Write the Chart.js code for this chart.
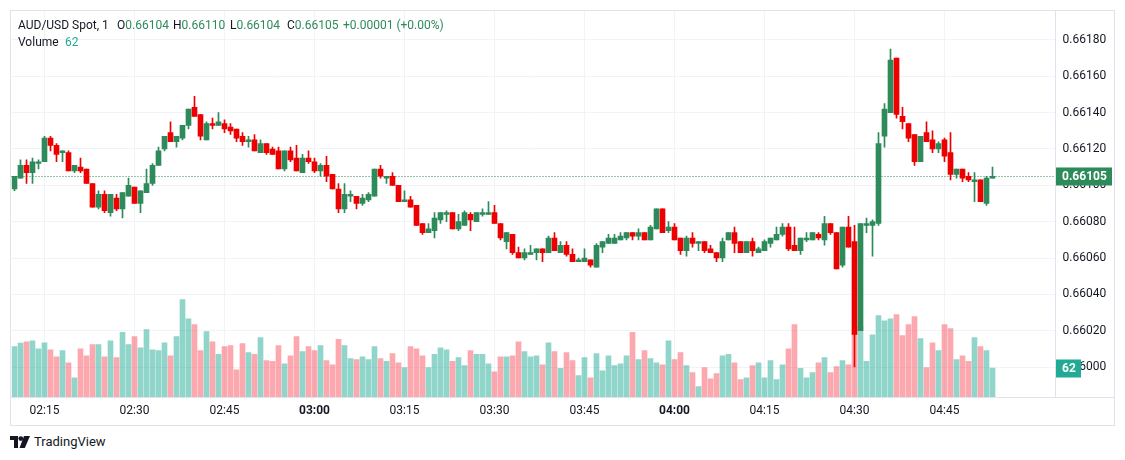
<!DOCTYPE html>
<html>
<head>
<meta charset="utf-8">
<script src="https://cdn.jsdelivr.net/npm/chart.js@4.4.1/dist/chart.umd.min.js"></script>
<style>
html,body{margin:0;padding:0;background:#fff;}
body{width:1125px;height:460px;position:relative;overflow:hidden;font-family:Roboto,"Liberation Sans",sans-serif;color:#131722;}
#wrap{position:absolute;left:10px;top:10px;width:1104px;height:415px;}
#frame{position:absolute;left:10px;top:10px;width:1105px;height:416px;border:1px solid #e0e3eb;box-sizing:border-box;pointer-events:none;}
.h{position:absolute;font-size:12px;line-height:14px;white-space:nowrap;}
.g{color:#2d8a5a;}
.t{color:#22ab94;}
#logo{position:absolute;left:10px;top:434px;display:flex;align-items:center;font-size:13px;color:#131722;}
#logo svg{margin-right:4px;}
</style>
</head>
<body>
<div id="wrap"><canvas id="c" width="1104" height="415"></canvas></div>
<div id="frame"></div>
<div class="h" style="left:18px;top:18px">AUD/USD Spot, 1</div>
<div class="h" style="left:117px;top:18px">O<span class="g">0.66104</span></div>
<div class="h" style="left:173px;top:18px">H<span class="g">0.66110</span></div>
<div class="h" style="left:230px;top:18px">L<span class="g">0.66104</span></div>
<div class="h" style="left:287px;top:18px">C<span class="g">0.66105</span></div>
<div class="h g" style="left:343px;top:18px">+0.00001 (+0.00%)</div>
<div class="h" style="left:18px;top:35px">Volume</div>
<div class="h t" style="left:65px;top:35px">62</div>
<div id="logo"><svg width="20" height="12" viewBox="0 0 20 12"><path d="M0 0h8v12h-4v-8h-4z" fill="#131722"/><circle cx="10.8" cy="2.6" r="2.4" fill="#131722"/><path d="M14 0h6l-5.2 12h-5.3z" fill="#131722"/></svg><span>TradingView</span></div>
<script>
// ---- data (AUD/USD 1-minute, from 02:10) ----
const opens = [0.66098,0.66104,0.66111,0.66107,0.66112,0.66113,0.66126,0.66122,0.66118,0.66118,0.66108,0.66110,0.66109,0.66101,0.66088,0.66095,0.66085,0.66093,0.66087,0.66094,0.66099,0.66090,0.66096,0.66101,0.66111,0.66120,0.66129,0.66124,0.66126,0.66133,0.66143,0.66139,0.66125,0.66134,0.66133,0.66134,0.66132,0.66131,0.66127,0.66124,0.66125,0.66118,0.66123,0.66120,0.66119,0.66109,0.66119,0.66115,0.66107,0.66115,0.66113,0.66108,0.66111,0.66106,0.66098,0.66087,0.66094,0.66094,0.66090,0.66092,0.66094,0.66109,0.66104,0.66105,0.66100,0.66091,0.66092,0.66089,0.66079,0.66074,0.66075,0.66081,0.66084,0.66085,0.66076,0.66078,0.66084,0.66080,0.66084,0.66084,0.66085,0.66079,0.66069,0.66073,0.66063,0.66060,0.66062,0.66063,0.66065,0.66063,0.66071,0.66063,0.66067,0.66062,0.66058,0.66058,0.66059,0.66055,0.66066,0.66068,0.66068,0.66070,0.66071,0.66074,0.66072,0.66074,0.66070,0.66076,0.66087,0.66075,0.66077,0.66071,0.66064,0.66071,0.66068,0.66069,0.66065,0.66063,0.66060,0.66070,0.66074,0.66069,0.66063,0.66069,0.66063,0.66064,0.66068,0.66070,0.66073,0.66077,0.66067,0.66064,0.66070,0.66070,0.66073,0.66070,0.66079,0.66074,0.66056,0.66077,0.66069,0.66020,0.66078,0.66078,0.66079,0.66127,0.66140,0.66170,0.66138,0.66134,0.66128,0.66113,0.66129,0.66125,0.66120,0.66125,0.66118,0.66106,0.66109,0.66105,0.66102,0.66103,0.66090,0.66104];
const highs = [0.66105,0.66114,0.66114,0.66115,0.66114,0.66127,0.66127,0.66123,0.66119,0.66119,0.66111,0.66115,0.66109,0.66101,0.66097,0.66097,0.66095,0.66095,0.66096,0.66104,0.66099,0.66097,0.66109,0.66112,0.66121,0.66127,0.66135,0.66127,0.66133,0.66142,0.66149,0.66139,0.66135,0.66137,0.66140,0.66136,0.66134,0.66131,0.66129,0.66127,0.66128,0.66125,0.66123,0.66121,0.66121,0.66119,0.66121,0.66122,0.66117,0.66119,0.66115,0.66112,0.66116,0.66106,0.66101,0.66101,0.66097,0.66094,0.66095,0.66096,0.66109,0.66111,0.66105,0.66107,0.66100,0.66097,0.66094,0.66089,0.66079,0.66079,0.66085,0.66085,0.66086,0.66085,0.66084,0.66086,0.66085,0.66085,0.66087,0.66091,0.66089,0.66079,0.66074,0.66073,0.66066,0.66065,0.66067,0.66065,0.66065,0.66072,0.66074,0.66069,0.66069,0.66065,0.66060,0.66065,0.66059,0.66068,0.66069,0.66073,0.66073,0.66074,0.66074,0.66074,0.66076,0.66074,0.66078,0.66087,0.66087,0.66080,0.66079,0.66071,0.66072,0.66074,0.66069,0.66069,0.66067,0.66063,0.66071,0.66074,0.66077,0.66069,0.66069,0.66071,0.66066,0.66070,0.66071,0.66077,0.66079,0.66079,0.66077,0.66071,0.66074,0.66074,0.66074,0.66083,0.66079,0.66074,0.66077,0.66083,0.66078,0.66079,0.66082,0.66081,0.66129,0.66145,0.66175,0.66170,0.66143,0.66134,0.66128,0.66127,0.66135,0.66130,0.66124,0.66126,0.66129,0.66109,0.66109,0.66107,0.66107,0.66103,0.66105,0.66110];
const lows = [0.66097,0.66104,0.66101,0.66101,0.66109,0.66113,0.66119,0.66113,0.66113,0.66108,0.66107,0.66107,0.66101,0.66088,0.66087,0.66085,0.66083,0.66086,0.66082,0.66094,0.66090,0.66085,0.66096,0.66100,0.66111,0.66119,0.66124,0.66121,0.66125,0.66131,0.66138,0.66125,0.66125,0.66131,0.66133,0.66129,0.66128,0.66124,0.66122,0.66121,0.66119,0.66118,0.66117,0.66117,0.66109,0.66108,0.66113,0.66108,0.66107,0.66112,0.66107,0.66105,0.66102,0.66098,0.66085,0.66085,0.66091,0.66087,0.66089,0.66091,0.66094,0.66104,0.66101,0.66100,0.66091,0.66091,0.66088,0.66078,0.66073,0.66074,0.66071,0.66079,0.66080,0.66076,0.66075,0.66078,0.66075,0.66080,0.66083,0.66084,0.66079,0.66070,0.66065,0.66062,0.66060,0.66059,0.66062,0.66059,0.66058,0.66063,0.66064,0.66063,0.66061,0.66058,0.66058,0.66058,0.66055,0.66055,0.66063,0.66068,0.66068,0.66070,0.66070,0.66070,0.66070,0.66070,0.66070,0.66076,0.66074,0.66074,0.66070,0.66062,0.66061,0.66066,0.66064,0.66063,0.66063,0.66058,0.66058,0.66070,0.66063,0.66063,0.66063,0.66061,0.66063,0.66064,0.66066,0.66070,0.66072,0.66064,0.66064,0.66062,0.66069,0.66070,0.66070,0.66067,0.66073,0.66054,0.66055,0.66066,0.66000,0.66020,0.66074,0.66061,0.66078,0.66121,0.66140,0.66137,0.66131,0.66124,0.66111,0.66113,0.66124,0.66118,0.66118,0.66113,0.66103,0.66104,0.66102,0.66102,0.66091,0.66091,0.66089,0.66104];
const closes = [0.66105,0.66111,0.66107,0.66113,0.66113,0.66126,0.66122,0.66117,0.66119,0.66108,0.66111,0.66108,0.66101,0.66088,0.66095,0.66086,0.66095,0.66087,0.66096,0.66100,0.66090,0.66097,0.66101,0.66111,0.66119,0.66127,0.66124,0.66127,0.66133,0.66142,0.66138,0.66127,0.66134,0.66133,0.66135,0.66131,0.66130,0.66126,0.66124,0.66125,0.66119,0.66123,0.66118,0.66117,0.66109,0.66119,0.66114,0.66108,0.66115,0.66113,0.66108,0.66111,0.66105,0.66098,0.66087,0.66095,0.66095,0.66090,0.66093,0.66095,0.66109,0.66105,0.66105,0.66100,0.66091,0.66092,0.66088,0.66078,0.66074,0.66076,0.66082,0.66085,0.66085,0.66076,0.66080,0.66085,0.66081,0.66085,0.66085,0.66085,0.66079,0.66071,0.66074,0.66063,0.66060,0.66063,0.66063,0.66065,0.66063,0.66071,0.66064,0.66067,0.66062,0.66058,0.66059,0.66060,0.66056,0.66067,0.66069,0.66071,0.66071,0.66072,0.66074,0.66072,0.66074,0.66070,0.66077,0.66087,0.66074,0.66077,0.66070,0.66064,0.66071,0.66068,0.66069,0.66064,0.66063,0.66060,0.66069,0.66074,0.66068,0.66063,0.66069,0.66064,0.66065,0.66069,0.66071,0.66073,0.66077,0.66065,0.66064,0.66071,0.66071,0.66074,0.66071,0.66079,0.66074,0.66054,0.66077,0.66066,0.66018,0.66079,0.66079,0.66080,0.66123,0.66142,0.66169,0.66139,0.66135,0.66126,0.66113,0.66127,0.66124,0.66120,0.66123,0.66116,0.66106,0.66109,0.66104,0.66103,0.66103,0.66091,0.66104,0.66105];
const volumes = [108,115,118,120,103,116,101,86,99,73,41,103,88,112,112,86,120,84,138,112,129,105,144,101,99,116,88,129,208,167,155,99,140,118,91,108,110,58,114,95,91,127,78,76,110,71,88,129,97,108,99,110,78,69,123,110,82,80,86,80,108,82,76,93,73,63,108,103,88,63,91,105,101,76,84,67,99,91,91,71,54,86,86,88,118,97,86,88,69,116,97,61,95,78,46,84,41,93,56,88,67,71,88,138,80,99,82,73,69,120,80,95,67,52,22,63,39,50,88,91,73,37,41,67,73,41,78,37,69,103,155,61,41,52,73,84,52,65,78,69,137,150,76,133,174,163,167,176,131,155,172,125,63,116,99,155,146,80,88,76,127,108,99,62];
// time categories: one per minute from 02:10, with empty minutes after the last bar (right margin)
const firstMinute = 2 * 60 + 10, lastMinute = 5 * 60 + 3;
const timeLabels = [];
for (let m = firstMinute; m <= lastMinute; m++) {
  timeLabels.push(String(Math.floor(m / 60)).padStart(2, '0') + ':' + String(m % 60).padStart(2, '0'));
}
const timeTicks = ['02:15','02:30','02:45','03:00','03:15','03:30','03:45','04:00','04:15','04:30','04:45'];
const priceTicks = [0.66000,0.66020,0.66040,0.66060,0.66080,0.66100,0.66120,0.66140,0.66160,0.66180];

// ---- styles ----
const UP = '#2d8a5a', DOWN = '#ee0000';
const VUP = 'rgba(34,171,148,0.5)', VDOWN = 'rgba(247,82,95,0.5)';
const GRID = '#f0f3fa', AXIS = '#e0e3eb', TEXT = '#131722';
const FONT = 'Roboto, "Liberation Sans", sans-serif';

const isUp = closes.map((c, i) => c >= opens[i]);
const wickData = lows.map((l, i) => [l, highs[i]]);
const bodyData = opens.map((o, i) => [o, closes[i]]);

const overlay = {
  id: 'overlay',
  beforeDatasetsDraw(chart) {
    const { ctx, chartArea: a, scales: { y } } = chart;
    const yy = Math.round(y.getPixelForValue(closes[closes.length - 1])) + 0.5;
    ctx.save();
    ctx.strokeStyle = UP; ctx.lineWidth = 1; ctx.setLineDash([1, 2]);
    ctx.beginPath(); ctx.moveTo(a.left, yy); ctx.lineTo(a.right, yy); ctx.stroke();
    ctx.restore();
  },
  afterDraw(chart) {
    const { ctx, chartArea: a, scales: { y, yv } } = chart;
    ctx.save();
    ctx.strokeStyle = AXIS; ctx.lineWidth = 1;
    ctx.beginPath(); ctx.moveTo(0, Math.round(a.bottom) + 0.5); ctx.lineTo(chart.width, Math.round(a.bottom) + 0.5); ctx.stroke();
    const lp = closes[closes.length - 1];
    const py = y.getPixelForValue(lp);
    ctx.fillStyle = UP;
    ctx.fillRect(Math.round(a.right), Math.round(py) - 8.5, 56, 18);
    ctx.fillStyle = '#fff'; ctx.font = 'bold 12px ' + FONT; ctx.textBaseline = 'middle'; ctx.textAlign = 'left';
    ctx.fillText(lp.toFixed(5), Math.round(a.right) + 6, Math.round(py) + 0.5);
    const lv = volumes[volumes.length - 1];
    const vy = yv.getPixelForValue(lv);
    ctx.fillStyle = '#22ab94';
    ctx.fillRect(Math.round(a.right), Math.round(vy) - 8.5, 25, 18);
    ctx.fillStyle = '#fff'; ctx.font = 'bold 12px ' + FONT;
    ctx.fillText(String(lv), Math.round(a.right) + 6, Math.round(vy) + 0.5);
    ctx.restore();
  }
};

new Chart(document.getElementById('c'), {
  type: 'bar',
  data: {
    labels: timeLabels,
    datasets: [
      { label: 'Volume', data: volumes, yAxisID: 'yv', order: 3, grouped: false, barThickness: 5,
        backgroundColor: isUp.map(u => u ? VUP : VDOWN) },
      { label: 'Wick', data: wickData, yAxisID: 'y', order: 2, grouped: false, barThickness: 1,
        backgroundColor: isUp.map(u => u ? UP : DOWN) },
      { label: 'Body', data: bodyData, yAxisID: 'y', order: 1, grouped: false, barThickness: 5, minBarLength: 1,
        backgroundColor: isUp.map(u => u ? UP : DOWN) }
    ]
  },
  options: {
    responsive: false, animation: false, maintainAspectRatio: false,
    layout: { padding: { left: 1.5, right: 0, top: 0, bottom: 0 } },
    plugins: { legend: { display: false }, tooltip: { enabled: false } },
    scales: {
      x: {
        type: 'category', offset: true,
        grid: { offset: false, drawTicks: false, color: c => (c.tick && c.tick.label) ? GRID : 'rgba(0,0,0,0)' },
        border: { display: false },
        ticks: {
          autoSkip: false, maxRotation: 0, minRotation: 0, padding: 7, color: TEXT,
          font: c => ({ family: FONT, size: 12, weight: (c.tick && /:00$/.test(c.tick.label)) ? 'bold' : 'normal' }),
          callback: function (v, i) { return timeTicks.includes(timeLabels[i]) ? timeLabels[i] : ''; }
        },
        afterFit: s => { s.height = 28; s.paddingLeft = 0; s.paddingRight = 0; }
      },
      y: {
        position: 'right', min: 0.6598349, max: 0.6619651,
        grid: { color: GRID, drawTicks: false },
        border: { display: true, color: AXIS },
        ticks: { padding: 7, color: TEXT, font: { family: FONT, size: 12 }, callback: v => Number(v).toFixed(5) },
        afterBuildTicks: s => { s.ticks = priceTicks.map(v => ({ value: v })); },
        afterFit: s => { s.width = 58.5; s.paddingTop = 0; s.paddingBottom = 0; }
      },
      yv: { display: false, min: 0, max: 827 }
    }
  },
  plugins: [overlay]
});
</script>
</body>
</html>
